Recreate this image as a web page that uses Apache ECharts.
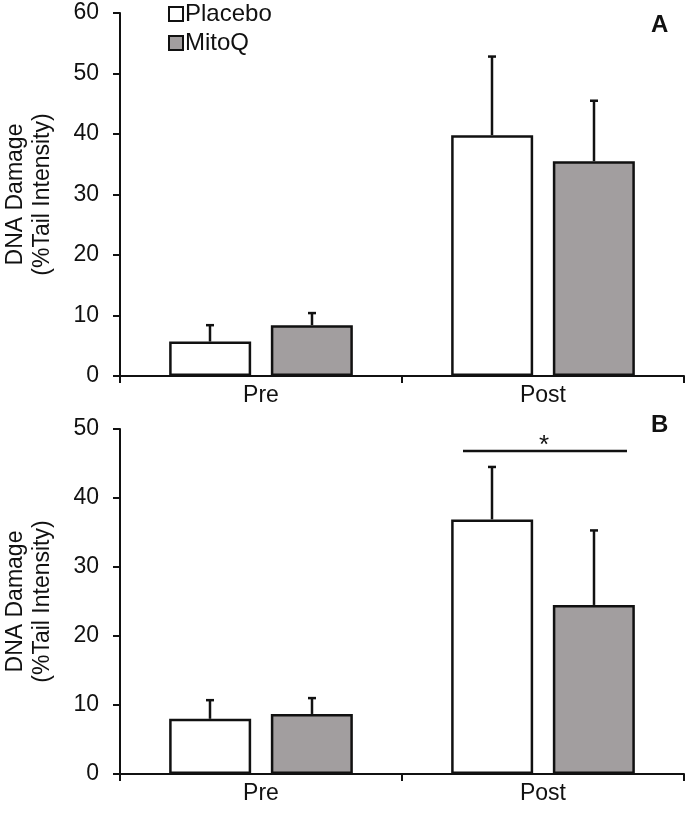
<!DOCTYPE html>
<html><head><meta charset="utf-8">
<script src="https://cdn.jsdelivr.net/npm/echarts@6/dist/echarts.min.js"></script>
<style>html,body{margin:0;padding:0;background:#fff}#c{width:688px;height:814px}</style>
</head><body><div id="c"></div>
<script>
const categories = ['Pre', 'Post'];
const groups = ['Placebo', 'MitoQ'];
// Panel A
const aPlacebo = [5.7, 39.8];
const aPlaceboErr = [2.7, 13.0];
const aMitoQ = [8.4, 35.5];
const aMitoQErr = [2.0, 10.0];
// Panel B
const bPlacebo = [8.0, 36.9];
const bPlaceboErr = [2.7, 7.6];
const bMitoQ = [8.7, 24.5];
const bMitoQErr = [2.3, 10.8];
const sigLevel = [46.8];
const aTicks = [0, 10, 20, 30, 40, 50, 60];
const bTicks = [0, 10, 20, 30, 40, 50];

const FONT = 'Liberation Sans';
const chart = echarts.init(document.getElementById('c'), null, {renderer: 'canvas'});
const BARW = 82, OFFS = 51;

function errSeries(idx, vals, errs, side) {
  return {
    type: 'custom', xAxisIndex: idx, yAxisIndex: idx, z: 5, silent: true,
    data: vals.map((v, i) => [i, v, v + errs[i]]),
    renderItem: function (params, api) {
      const p0 = api.coord([api.value(0), api.value(1)]);
      const p1 = api.coord([api.value(0), api.value(2)]);
      const x = p0[0] + side * OFFS;
      return {type: 'group', children: [
        {type: 'line', shape: {x1: x, y1: p0[1], x2: x, y2: p1[1]}, style: {stroke: '#111', lineWidth: 2.5}},
        {type: 'line', shape: {x1: x - 4, y1: p1[1], x2: x + 4, y2: p1[1]}, style: {stroke: '#111', lineWidth: 2.5}}
      ]};
    }
  };
}
function barSeries(idx, name, vals, color) {
  return {
    type: 'bar', name: name, xAxisIndex: idx, yAxisIndex: idx, data: vals,
    barWidth: BARW, barGap: '24%',
    itemStyle: {color: color, borderColor: '#111', borderWidth: 2.5}
  };
}
function xAxis(idx) {
  return {
    type: 'category', gridIndex: idx, data: categories,
    axisLine: {lineStyle: {color: '#111', width: 2}},
    axisTick: {show: true, inside: false, length: 7, lineStyle: {color: '#111', width: 2}},
    axisLabel: {color: '#111', fontSize: 23, fontFamily: FONT, margin: 8}
  };
}
function yAxis(idx, max) {
  return {
    type: 'value', gridIndex: idx, min: 0, max: max, interval: 10,
    name: 'DNA Damage\n(%Tail Intensity)', nameLocation: 'middle', nameRotate: 90, nameGap: 64,
    nameTextStyle: {color: '#111', fontSize: 23, fontFamily: FONT, lineHeight: 27},
    axisLine: {show: true, lineStyle: {color: '#111', width: 2}},
    axisTick: {show: true, length: 7, lineStyle: {color: '#111', width: 2}},
    axisLabel: {color: '#111', fontSize: 23, fontFamily: FONT, margin: 21},
    splitLine: {show: false}
  };
}

chart.setOption({
  animation: false,
  backgroundColor: '#fff',
  grid: [
    {left: 120, right: 4, top: 13, height: 363, containLabel: false, outerBoundsMode: 'none'},
    {left: 120, right: 4, top: 429, height: 345, containLabel: false, outerBoundsMode: 'none'}
  ],
  legend: {
    orient: 'vertical', left: 163, top: -3, itemGap: 5, itemWidth: 14, itemHeight: 14,
    data: groups,
    textStyle: {color: '#111', fontSize: 24, fontFamily: FONT, padding: [0, 0, 0, -3]},
    icon: 'rect'
  },
  xAxis: [xAxis(0), xAxis(1)],
  yAxis: [yAxis(0, aTicks[aTicks.length - 1]), yAxis(1, bTicks[bTicks.length - 1])],
  graphic: [
    {type: 'text', left: 651, top: 13, style: {text: 'A', font: 'bold 24px "Liberation Sans"', fill: '#111'}},
    {type: 'text', left: 651, top: 413, style: {text: 'B', font: 'bold 24px "Liberation Sans"', fill: '#111'}}
  ],
  series: [
    barSeries(0, 'Placebo', aPlacebo, '#ffffff'),
    barSeries(0, 'MitoQ', aMitoQ, '#a29e9f'),
    errSeries(0, aPlacebo, aPlaceboErr, -1),
    errSeries(0, aMitoQ, aMitoQErr, 1),
    barSeries(1, 'Placebo', bPlacebo, '#ffffff'),
    barSeries(1, 'MitoQ', bMitoQ, '#a29e9f'),
    errSeries(1, bPlacebo, bPlaceboErr, -1),
    errSeries(1, bMitoQ, bMitoQErr, 1),
    {
      type: 'custom', xAxisIndex: 1, yAxisIndex: 1, z: 5, silent: true,
      data: [[1, sigLevel[0]]],
      renderItem: function (params, api) {
        const p = api.coord([api.value(0), api.value(1)]);
        return {type: 'group', children: [
          {type: 'line', shape: {x1: p[0] - 80, y1: p[1], x2: p[0] + 84, y2: p[1]}, style: {stroke: '#111', lineWidth: 2.5}},
          {type: 'text', x: p[0] + 1, y: p[1] - 5, style: {text: '*', font: '26px "Liberation Sans"', fill: '#111', align: 'center', verticalAlign: 'middle'}}
        ]};
      }
    }
  ]
});
</script></body></html>
